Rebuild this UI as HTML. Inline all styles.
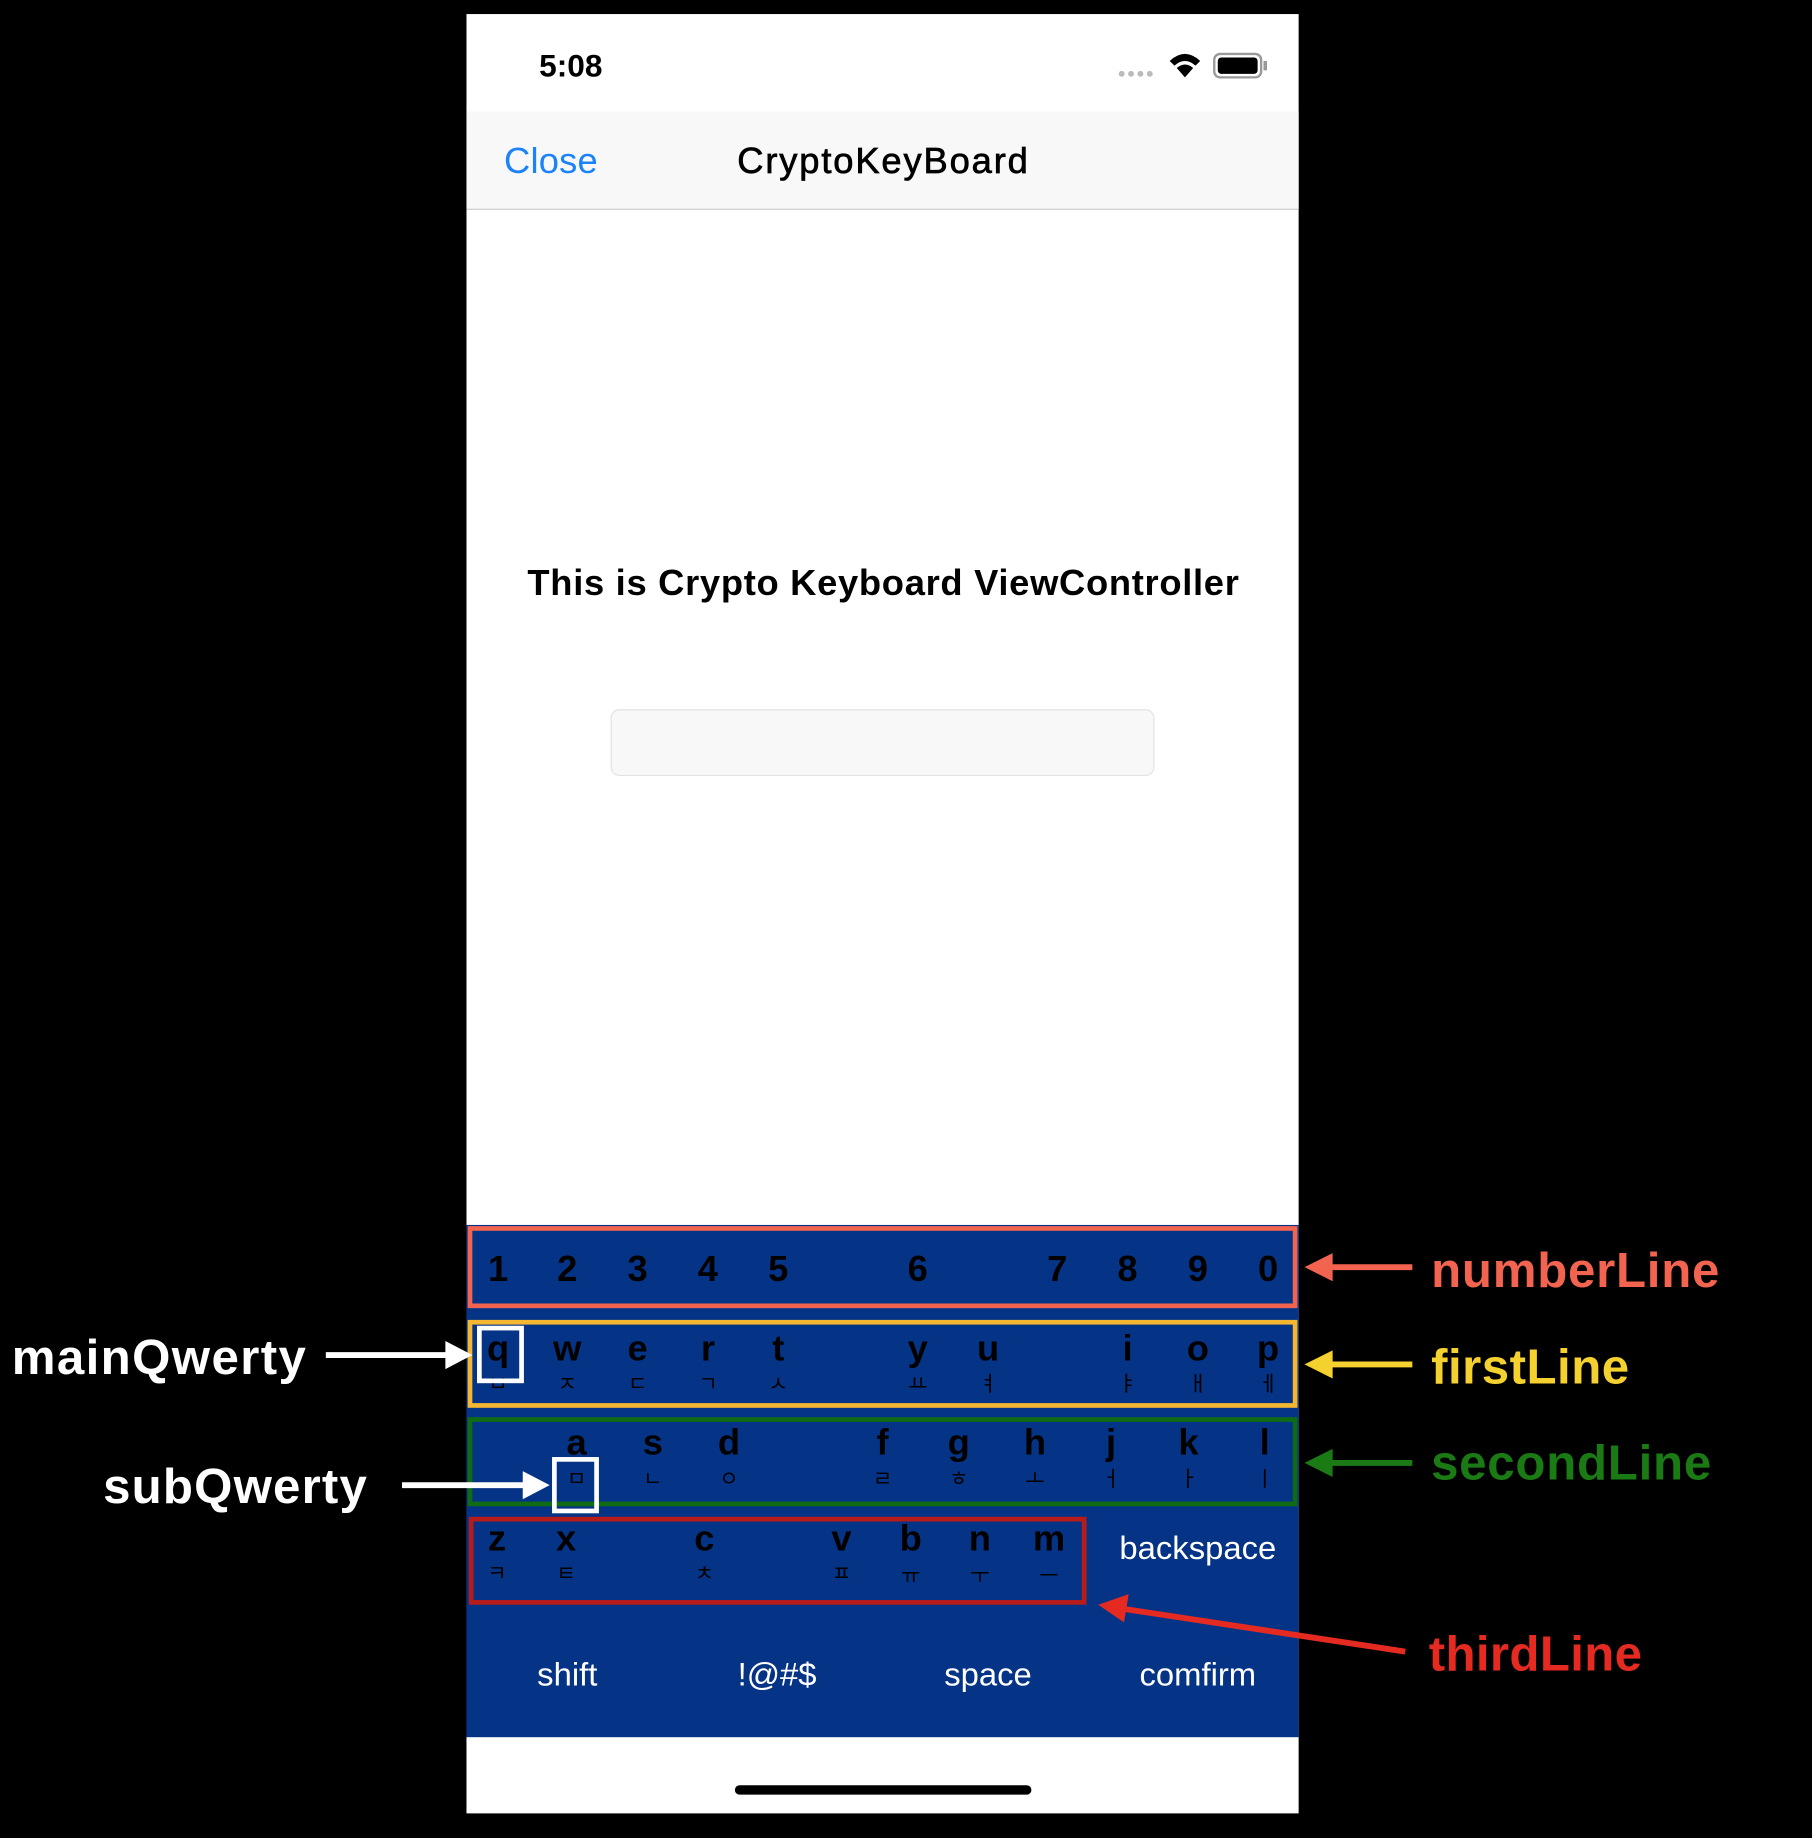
<!DOCTYPE html>
<html><head><meta charset="utf-8"><style>html,body{margin:0;padding:0;background:#000;width:1812px;height:1838px;overflow:hidden}svg{display:block}</style></head>
<body>
<svg width="1812" height="1838" viewBox="0 0 1546 1568" preserveAspectRatio="none" xmlns="http://www.w3.org/2000/svg" font-family="'Liberation Sans','Noto Sans CJK KR',sans-serif">
<rect width="1546" height="1568" fill="#000"/>
<rect x="398" y="12" width="710" height="1535" fill="#fff"/>
<text x="487" y="56" font-size="27" font-weight="bold" text-anchor="middle" dominant-baseline="central" fill="#000">5:08</text>
<g fill="#bbb"><circle cx="957" cy="63" r="2.5"/><circle cx="965" cy="63" r="2.5"/><circle cx="973" cy="63" r="2.5"/><circle cx="981" cy="63" r="2.5"/></g>
<path d="M998 52 Q1011 40 1024 52 L1020 56 Q1011 48 1002 56Z M1004 58 Q1011 52 1018 58 L1011 66Z" fill="#000"/>
<rect x="1036" y="46" width="40" height="20" rx="5" fill="none" stroke="#999" stroke-width="2"/>
<rect x="1039" y="49" width="34" height="14" rx="3" fill="#000"/>
<rect x="1078" y="52" width="3" height="8" fill="#999"/>
<rect x="398" y="95" width="710" height="83" fill="#f8f8f8"/>
<rect x="398" y="178" width="710" height="1" fill="#ccc"/>
<text x="430" y="137" font-size="31" fill="#1a82fb" dominant-baseline="central" textLength="80">Close</text>
<text x="629" y="137" font-size="31" fill="#000" dominant-baseline="central" textLength="248" stroke="#000" stroke-width="0.6">CryptoKeyBoard</text>
<text x="450" y="497" font-size="31" font-weight="bold" fill="#000" dominant-baseline="central" textLength="607">This is Crypto Keyboard ViewController</text>
<rect x="521.5" y="605.5" width="463" height="56" rx="7" fill="#f8f8f8" stroke="#e2e2e2"/>
<rect x="398" y="1045" width="710" height="437" fill="#053385"/>
<rect x="627" y="1523" width="253" height="8" rx="4" fill="#000"/>
<rect x="401" y="1048" width="704" height="66" fill="none" stroke="#f26350" stroke-width="4"/>
<rect x="401" y="1128" width="704" height="71" fill="none" stroke="#f5b731" stroke-width="4"/>
<rect x="401" y="1211" width="704" height="72" fill="none" stroke="#0f6b14" stroke-width="4"/>
<rect x="402" y="1296" width="523" height="71" fill="none" stroke="#b81c1a" stroke-width="4"/>
<g font-size="31" font-weight="bold" fill="#000" text-anchor="middle" dominant-baseline="central">
<text x="425" y="1082">1</text><text x="484" y="1082">2</text><text x="544" y="1082">3</text><text x="604" y="1082">4</text><text x="664" y="1082">5</text><text x="783" y="1082">6</text><text x="902" y="1082">7</text><text x="962" y="1082">8</text><text x="1022" y="1082">9</text><text x="1082" y="1082">0</text>
<text x="425" y="1150">q</text><text x="484" y="1150">w</text><text x="544" y="1150">e</text><text x="604" y="1150">r</text><text x="664" y="1150">t</text><text x="783" y="1150">y</text><text x="843" y="1150">u</text><text x="962" y="1150">i</text><text x="1022" y="1150">o</text><text x="1082" y="1150">p</text>
<text x="492" y="1230">a</text><text x="557" y="1230">s</text><text x="622" y="1230">d</text><text x="753" y="1230">f</text><text x="818" y="1230">g</text><text x="883" y="1230">h</text><text x="948" y="1230">j</text><text x="1014" y="1230">k</text><text x="1079" y="1230">l</text>
<text x="424" y="1312">z</text><text x="483" y="1312">x</text><text x="601" y="1312">c</text><text x="718" y="1312">v</text><text x="777" y="1312">b</text><text x="836" y="1312">n</text><text x="895" y="1312">m</text>
</g>
<g font-size="18" fill="#000" text-anchor="middle" dominant-baseline="central">
<text x="425" y="1181">ㅂ</text><text x="484" y="1181">ㅈ</text><text x="544" y="1181">ㄷ</text><text x="604" y="1181">ㄱ</text><text x="664" y="1181">ㅅ</text><text x="783" y="1181">ㅛ</text><text x="843" y="1181">ㅕ</text><text x="962" y="1181">ㅑ</text><text x="1022" y="1181">ㅐ</text><text x="1082" y="1181">ㅔ</text>
<text x="492" y="1262">ㅁ</text><text x="557" y="1262">ㄴ</text><text x="622" y="1262">ㅇ</text><text x="753" y="1262">ㄹ</text><text x="818" y="1262">ㅎ</text><text x="883" y="1262">ㅗ</text><text x="948" y="1262">ㅓ</text><text x="1014" y="1262">ㅏ</text><text x="1079" y="1262">ㅣ</text>
<text x="424" y="1343">ㅋ</text><text x="483" y="1343">ㅌ</text><text x="601" y="1343">ㅊ</text><text x="718" y="1343">ㅍ</text><text x="777" y="1345">ㅠ</text><text x="836" y="1345">ㅜ</text><text x="895" y="1345">ㅡ</text>
</g>
<g font-size="28" fill="#fff" text-anchor="middle" dominant-baseline="central">
<text x="1022" y="1320">backspace</text>
<text x="484" y="1428">shift</text><text x="663" y="1428">!@#$</text><text x="843" y="1428">space</text><text x="1022" y="1428">comfirm</text>
</g>
<rect x="409" y="1133" width="36" height="45" fill="none" stroke="#fff" stroke-width="4"/>
<rect x="473" y="1245" width="36" height="44" fill="none" stroke="#fff" stroke-width="4"/>
<g font-size="42" font-weight="bold" dominant-baseline="central">
<text x="1221" y="1084" fill="#f26350" textLength="246">numberLine</text>
<text x="1221" y="1166" fill="#f5d130" textLength="169">firstLine</text>
<text x="1221" y="1248" fill="#1a7a14" textLength="239">secondLine</text>
<text x="1219" y="1411" fill="#e52a22" textLength="182">thirdLine</text>
<text x="10" y="1158" fill="#fff" textLength="251">mainQwerty</text>
<text x="88" y="1268" fill="#fff" textLength="225">subQwerty</text>
</g>
<g stroke-width="5">
<line x1="1205" y1="1081" x2="1130" y2="1081" stroke="#f26350"/><path d="M1113 1081 L1137 1069 L1137 1093Z" fill="#f26350"/>
<line x1="1205" y1="1164" x2="1130" y2="1164" stroke="#f5d130"/><path d="M1113 1164 L1137 1152 L1137 1176Z" fill="#f5d130"/>
<line x1="1205" y1="1248" x2="1130" y2="1248" stroke="#1a7a14"/><path d="M1113 1248 L1137 1236 L1137 1260Z" fill="#1a7a14"/>
<line x1="1199" y1="1409" x2="955" y2="1372" stroke="#e52a22"/><path d="M937 1369 L963 1360 L959 1384Z" fill="#e52a22"/>
<line x1="278" y1="1156" x2="385" y2="1156" stroke="#fff"/><path d="M403 1156 L380 1144 L380 1168Z" fill="#fff"/>
<line x1="343" y1="1267" x2="451" y2="1267" stroke="#fff"/><path d="M469 1267 L446 1255 L446 1279Z" fill="#fff"/>
</g>
</svg>
</body></html>
